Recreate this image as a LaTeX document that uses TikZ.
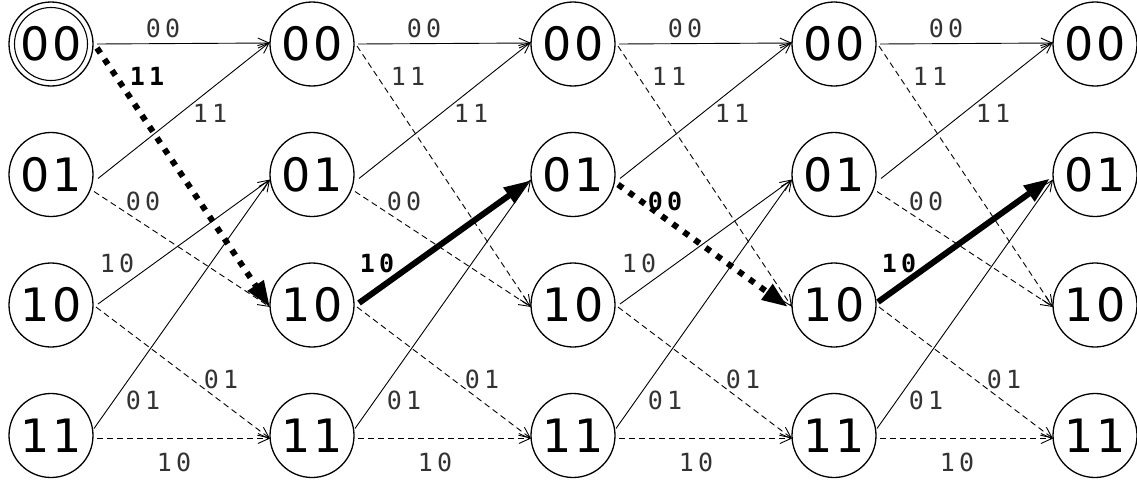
\documentclass[tikz,border=0pt]{standalone}
\usepackage{fontspec}
\setmainfont{DejaVu Sans}
\newfontfamily\lblfont[LetterSpace=16]{DejaVu Sans Mono}
\newfontfamily\statefont[LetterSpace=6]{DejaVu Sans}
\usetikzlibrary{arrows.meta,calc}
\begin{document}
\begin{tikzpicture}[x=1pt,y=-1pt,
  state/.style={circle,draw,line width=1.3pt,minimum size=84pt,inner sep=0pt,font=\statefont\fontsize{46}{46}\selectfont},
  lbl/.style={font=\lblfont\fontsize{25}{25}\selectfont,inner sep=0pt,text=black!80},
  blbl/.style={font=\lblfont\bfseries\fontsize{25}{25}\selectfont,inner sep=0pt},
  tr/.style={line width=0.9pt,-{Straight Barb[length=11pt,width=10pt]}},
  trd/.style={tr,dash pattern=on 6pt off 4pt},
  pathsolid/.style={line width=6pt,-{Triangle[length=26pt,width=18pt]}},
  pathdot/.style={line width=6pt,dash pattern=on 6pt off 7.5pt,-{Triangle[length=26pt,width=18pt]}},
]
\useasboundingbox (0,0) rectangle (1137,479);
\foreach \i in {1,...,5}{
  \pgfmathsetmacro{\xx}{51+261*(\i-1)}
  \foreach \r/\yy in {00/44,01/174.5,10/305,11/435.5}{
    \node[state] (n\i\r) at (\xx,\yy) {\r};
  }
}
\draw[line width=1.1pt] (n100) circle (36.5);
\foreach \i/\j in {1/2,2/3,3/4,4/5}{
  % from 00
  \draw[tr] ($(n\i00)+(46,0)$) -- ($(n\j00)+(-42,-1)$);
  \node[lbl] at ($(n\i00)+(112,-16)$) {00};
  \ifnum\i=1\relax\else
    \draw[trd] ($(n\i00)+(45,2)$) -- ($(n\j10)+(-42,2)$);
    \node[lbl] at ($(n\i00)+(96,32)$) {11};
  \fi
  % from 01
  \draw[tr] ($(n\i01)+(47,4)$) -- ($(n\j00)+(-42,-2)$);
  \node[lbl] at ($(n\i01)+(159,-61)$) {11};
  \ifnum\i=3\relax\else
    \draw[trd] ($(n\i01)+(43,17)$) -- ($(n\j10)+(-42,2)$);
    \node[lbl] at ($(n\i01)+(92,26.5)$) {00};
  \fi
  % from 10
  \ifodd\i
    \draw[tr] ($(n\i10)+(47,-1)$) -- ($(n\j01)+(-42,5)$);
    \node[lbl] at ($(n\i10)+(66,-42)$) {10};
  \fi
  \draw[trd] ($(n\i10)+(45,2)$) -- ($(n\j11)+(-42,3)$);
  \node[lbl] at ($(n\i10)+(170,74)$) {01};
  % from 11
  \draw[tr] ($(n\i11)+(43,-7)$) -- ($(n\j01)+(-42,5)$);
  \node[lbl] at ($(n\i11)+(92,-35)$) {01};
  \draw[trd] ($(n\i11)+(46,3)$) -- ($(n\j11)+(-42,3)$);
  \node[lbl] at ($(n\i11)+(123,27)$) {10};
}
% highlighted path
\draw[pathdot] ($(n100)+(46,4)$) -- ($(n210)+(-42,2)$);
\node[blbl] at ($(n100)+(96,32)$) {11};
\draw[pathsolid] ($(n210)+(47,-2)$) -- ($(n301)+(-43,6)$);
\node[blbl] at ($(n210)+(65,-42)$) {10};
\draw[pathdot] ($(n301)+(45,10)$) -- ($(n410)+(-46,2)$);
\node[blbl] at ($(n301)+(92,26.5)$) {00};
\draw[pathsolid] ($(n410)+(44,-3)$) -- ($(n501)+(-45,4)$);
\node[blbl] at ($(n410)+(65,-42)$) {10};
\end{tikzpicture}
\end{document}
